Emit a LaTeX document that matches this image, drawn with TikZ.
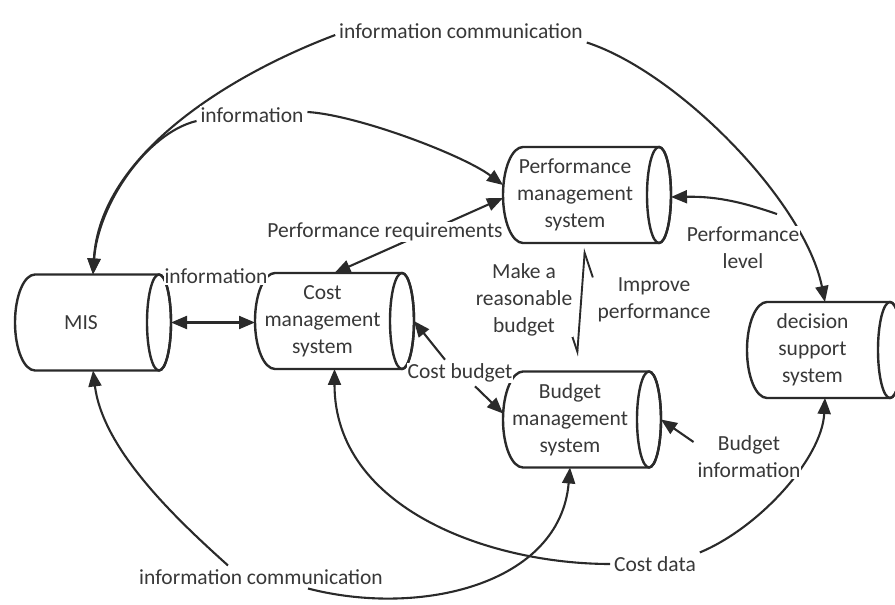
\documentclass[tikz,border=0pt]{standalone}
\usepackage{fontspec}
\setmainfont{Carlito}
\usetikzlibrary{arrows.meta}
\pgfdeclarelayer{bg}
\pgfsetlayers{bg,main}
\definecolor{ink}{HTML}{2A2A2A}
\definecolor{txt}{HTML}{383838}

\begin{document}
\begin{tikzpicture}[x=1pt, y=1pt,
    system/.style ={minimum height=96pt, inner sep=0pt, outer sep=0pt, align=center,
                    text=txt, font=\fontsize{21.5}{27}\selectfont},
    outline/.style={draw=ink, line width=2.4pt},
    tag/.style ={fill=white, inner sep=1pt, outer sep=3pt, align=center,
                 text=txt, font=\fontsize{21.5}{27}\selectfont},
    link/.style ={draw=ink, line width=2.1pt, -{Triangle[length=16pt,width=13pt]}},
    twoway/.style ={draw=ink, line width=2.1pt,
                    {Triangle[length=16pt,width=13pt]}-{Triangle[length=16pt,width=13pt]}},
    harp/.style ={draw=ink, line width=1.9pt,
                  {Straight Barb[harpoon,swap,length=24pt,width=20pt]}-{Straight Barb[harpoon,swap,length=24pt,width=20pt]}}]
   \useasboundingbox (0,0) rectangle (895,605);
   % systems
   \node[system, minimum width=132pt] (mis) at (81,282.5) {MIS};
   \node[system, minimum width=135pt] (cost) at (322.5,284) {Cost\\management\\system};
   \node[system, minimum width=144pt] (perf) at (575,410) {Performance\\management\\system};
   \node[system, minimum width=134pt] (budget) at (570,185.5) {Budget\\management\\system};
   \node[system, minimum width=131pt] (dss) at (812.5,255) {decision\\support\\system};
   \foreach \n in {mis,cost,perf,budget,dss}{
      \draw[outline] ([xshift=20pt]\n.north west) -- ([xshift=12pt]\n.north east)
         arc[start angle=90, end angle=-90, x radius=12pt, y radius=48pt]
         -- ([xshift=20pt]\n.south west)
         arc[start angle=270, end angle=90, x radius=20pt, y radius=48pt];
      \draw[outline] ([xshift=12pt]\n.east) ellipse[x radius=12pt, y radius=48pt];
   }
   % labels
   \node[tag] (ic1) at (461,574) {information communication};
   \node[tag] (info1) at (252,490) {information};
   \node[tag] (info2) at (216,329) {information};
   \node[tag] (preq) at (385,373) {Performance requirements};
   \node[tag] (plevel) at (743,357) {Performance\\level};
   \node[tag] (mkbud) at (524,305) {Make a\\reasonable\\budget};
   \node[tag] (imperf) at (654,305) {Improve\\performance};
   \node[tag] (cbud) at (460,232) {Cost budget};
   \node[tag] (binfo) at (749,148) {Budget\\information};
   \node[tag] (cdata) at (655,41) {Cost data};
   \node[tag] (ic2) at (261,28) {information communication};
   % connectors
   \begin{pgfonlayer}{bg}
   \draw[link] ([yshift=-4pt]ic1.west) .. controls +(-106,-40) and +(7,120) .. ([xshift=12pt]mis.north);
   \draw[link] (ic1.south east) .. controls +(92,-30) and +(-20,100) .. ([xshift=12.5pt]dss.north);
   \draw[link] ([yshift=-6pt]info1.west) .. controls +(-50,-12) and +(5,70) .. ([xshift=12pt]mis.north);
   \draw[link] ([yshift=3pt]info1.east) .. controls +(50,-3) and +(-40,30) .. ([yshift=10pt]perf.west);
   \draw[twoway] ([xshift=12pt]cost.north) -- ([yshift=-3pt]perf.west);
   \draw[twoway] ([xshift=24pt]mis.east) -- (mis.east -| cost.west);
   \draw[link] ([shift={(34pt,9pt)}]plevel.north) to[bend right=10] ([shift={(24pt,-2pt)}]perf.east);
   \draw[link] ([xshift=-15pt]cbud.north) -- ([xshift=24pt]cost.east);
   \draw[link] ([xshift=15pt]cbud.south) -- ([yshift=6pt]budget.west);
   \draw[link] ([yshift=15pt]binfo.west) -- ([xshift=24pt]budget.east);
   \draw[link] (cdata.west) .. controls +(-120,0) and +(0,-140) .. ([xshift=12pt]cost.south);
   \draw[link] (cdata.north east) .. controls +(60,25) and +(-3,-60) .. ([xshift=12.5pt]dss.south);
   \draw[link] ([xshift=-33pt]ic2.north) .. controls +(-50,45) and +(10,-80) .. ([xshift=12pt]mis.south);
   \draw[link] ([xshift=47pt]ic2.south) .. controls +(112,-29) and +(-10,-117) .. (budget.south);
   \draw[harp] ([xshift=10pt,yshift=-5pt]perf.south) -- ([xshift=7pt,yshift=15pt]budget.north);
   \end{pgfonlayer}
\end{tikzpicture}
\end{document}
